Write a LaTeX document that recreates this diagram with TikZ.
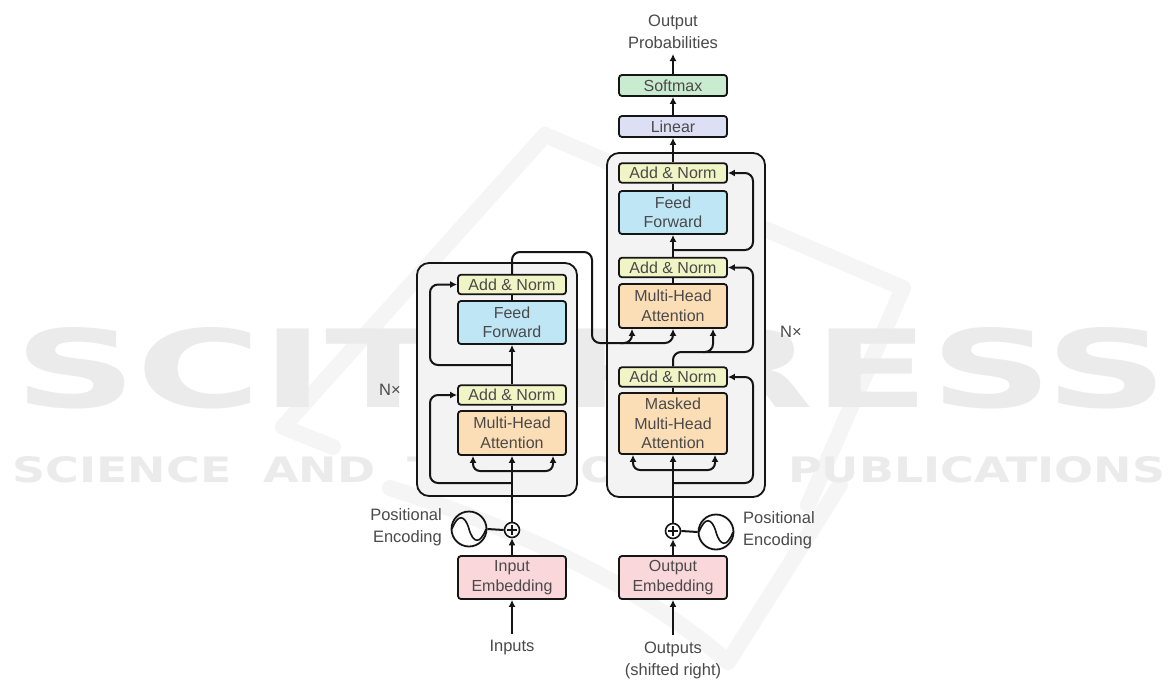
\documentclass[tikz,border=0pt]{standalone}
\usepackage{fontspec}
\setmainfont{Liberation Sans}
\newfontfamily\wmfont{DejaVu Sans}
\usetikzlibrary{arrows.meta,calc}
\definecolor{anC}{HTML}{F1F4C4}
\definecolor{ffC}{HTML}{BFE6F5}
\definecolor{mhC}{HTML}{FCDEB6}
\definecolor{embC}{HTML}{F9D7DB}
\definecolor{smC}{HTML}{C9EBD0}
\definecolor{linC}{HTML}{DDDFF4}
\definecolor{outerC}{HTML}{F3F3F3}
\definecolor{txtC}{HTML}{4A4A4A}
\definecolor{lineC}{HTML}{151515}
\definecolor{wmC}{HTML}{EBEBEB}
\definecolor{wmD}{HTML}{F5F5F5}
\begin{document}
\begin{tikzpicture}[x=1pt,y=-1pt,
  blk/.style={draw=lineC, line width=1.8pt, rounded corners=3pt, inner sep=0pt,
    minimum width=108pt, text=txtC, font=\fontsize{16}{19.5}\selectfont, align=center},
  anblk/.style={blk, fill=anC, minimum height=19.5pt},
  ffblk/.style={blk, fill=ffC, minimum height=43pt},
  mhblk/.style={blk, fill=mhC, minimum height=44pt},
  embblk/.style={blk, fill=embC, minimum height=43pt},
  outer/.style={draw=lineC, line width=1.8pt, rounded corners=12pt, fill=outerC},
  conn/.style={draw=lineC, line width=2pt, rounded corners=8pt},
  arr/.style={conn, -{Latex[length=7pt,width=7pt]}},
  lbl/.style={text=txtC, font=\fontsize{16.5}{22}\selectfont, align=center, inner sep=0pt},
  plusc/.style={circle, draw=lineC, line width=1.6pt, minimum size=15pt, inner sep=0pt},
  pec/.style={circle, draw=lineC, line width=1.8pt, minimum size=35pt, inner sep=0pt},
  wm/.style={text=wmC, inner sep=0pt},
  wmstroke/.style={draw=wmD, line width=16pt, line join=round, line cap=round}
]
\useasboundingbox (0,0) rectangle (1169,680);
\fill[white] (0,0) rectangle (1169,680);

% ---------- watermark ----------
\draw[wmstroke] (333,447) -- (283,427) -- (545,135) -- (903,288) -- (808,505);
\draw[wmstroke] (390,488) .. controls (520,530) and (640,585) .. (728,662) -- (840,485);
\node[wm] (wmA) at (591,368) {\resizebox{1152pt}{80pt}{\wmfont\bfseries SCITEPRESS}};
\node[wm] (wmB) at (589,470) {\resizebox{1152pt}{26pt}{\wmfont\bfseries SCIENCE\ \ AND\ \ TECHNOLOGY\ \ PUBLICATIONS}};

% ---------- outer boxes ----------
\draw[outer] (417,263) rectangle (577,496);
\draw[outer] (607,153) rectangle (765,497);

% ---------- encoder blocks ----------
\node[anblk] (encAN2) at (512,284.5) {Add \& Norm};
\node[ffblk] (encFF) at (512,322.5) {Feed\\Forward};
\node[anblk] (encAN1) at (512,395) {Add \& Norm};
\node[mhblk] (encMHA) at (512,433) {Multi-Head\\Attention};
\node[embblk] (inEmb) at (512,577.5) {Input\\Embedding};
\node[plusc] (encPlus) at (512,530) {};
\node[pec] (encPE) at (469,529) {};

% ---------- decoder blocks ----------
\node[anblk] (decAN3) at (673,173) {Add \& Norm};
\node[ffblk] (decFF) at (673,212.5) {Feed\\Forward};
\node[anblk] (decAN2) at (673,267.5) {Add \& Norm};
\node[mhblk] (decMHA) at (673,306) {Multi-Head\\Attention};
\node[anblk] (decAN1) at (673,377) {Add \& Norm};
\node[blk, fill=mhC, minimum height=61pt] (decMMHA) at (673,423.5) {Masked\\Multi-Head\\Attention};
\node[embblk] (outEmb) at (673,577.5) {Output\\Embedding};
\node[plusc] (decPlus) at (673,531) {};
\node[pec] (decPE) at (716,532) {};
\node[blk, fill=linC, minimum height=21pt] (linear) at (673,126.5) {Linear};
\node[blk, fill=smC, minimum height=21pt] (softmax) at (673,85.5) {Softmax};

% ---------- labels ----------
\node[lbl, align=right, anchor=east] (encPEl) at (442,527) {Positional\\Encoding};
\node[lbl, align=left, anchor=west] (decPEl) at (743,530) {Positional\\Encoding};
\node[lbl] (inputs) at (512,648) {Inputs};
\node[lbl] (outputs) at (673,660) {Outputs\\(shifted right)};
\node[lbl] (outprob) at (673,32) {Output\\Probabilities};
\node[lbl] (encN) at (390,390) {N×};
\node[lbl] (decN) at (791,332) {N×};

% plus and sine glyphs
\foreach \p in {encPlus,decPlus}{
  \draw[lineC, line width=1.4pt] ($(\p.center)+(-5,0)$) -- ($(\p.center)+(5,0)$);
  \draw[lineC, line width=1.4pt] ($(\p.center)+(0,-5)$) -- ($(\p.center)+(0,5)$);
}
\foreach \p in {encPE,decPE}{
  \draw[lineC, line width=1.6pt] ($(\p.center)+(-17,0)$) .. controls ($(\p.center)+(-11,-16)$) and ($(\p.center)+(-4,-14)$) .. (\p.center)
     .. controls ($(\p.center)+(4,14)$) and ($(\p.center)+(11,16)$) .. ($(\p.center)+(17,0)$);
}

% ---------- junction coordinates ----------
\coordinate (encSplit) at (512,471);
\coordinate (encRes1) at (512,483);
\coordinate (encRes2) at (512,365);
\coordinate (encTop) at (512,252);
\coordinate (encL) at (430,0);
\coordinate (xEncOut) at (592,252);
\coordinate (encOutLow) at (592,343);
\coordinate (crossK) at (632,343);
\coordinate (crossV) at (673,343);
\coordinate (decSplit) at (673,470);
\coordinate (decRes1) at (673,483);
\coordinate (decQ) at (673,352);
\coordinate (decRes3) at (673,250);
\coordinate (decR) at (753,0);
\coordinate (probTop) at (673,54);

% ---------- encoder connectors ----------
\draw[arr] (inputs.north) ++(0,-6) -- (inEmb.south);
\draw[arr] (inEmb.north) -- (encPlus.south);
\draw[conn] (encPE.east) -- (encPlus.west);
\draw[arr] (encPlus.north) -- (encMHA.south);
\draw[arr, rounded corners=7pt] (encSplit) -| ([xshift=-39pt]encMHA.south);
\draw[arr, rounded corners=7pt] (encSplit) -| ([xshift=41pt]encMHA.south);
\draw[arr] (encRes1) -| (encL |- encAN1.west) -- (encAN1.west);
\draw[conn] (encMHA.north) -- (encAN1.south);
\draw[arr] (encAN1.north) -- (encFF.south);
\draw[arr] (encRes2) -| (encL |- encAN2.west) -- (encAN2.west);
\draw[conn] (encFF.north) -- (encAN2.south);
\draw[arr] (encAN2.north) -- (encTop) -- (xEncOut) -- (encOutLow) -- (crossK) -- (crossK |- decMHA.south);
\draw[arr] ($(crossK)+(-12,0)$) -- (crossV) -- (crossV |- decMHA.south);

% ---------- decoder connectors ----------
\draw[arr] (outputs.north) ++(0,-6) -- (outEmb.south);
\draw[arr] (outEmb.north) -- (decPlus.south);
\draw[conn] (decPE.west) -- (decPlus.east);
\draw[arr] (decPlus.north) -- (decMMHA.south);
\draw[arr, rounded corners=7pt] (decSplit) -| ([xshift=-40pt]decMMHA.south);
\draw[arr, rounded corners=7pt] (decSplit) -| ([xshift=42pt]decMMHA.south);
\draw[arr] (decRes1) -| (decR |- decAN1.east) -- (decAN1.east);
\draw[conn] (decMMHA.north) -- (decAN1.south);
\draw[arr] (decAN1.north) -- (decQ) -| ([xshift=40pt]decMHA.south);
\draw[arr] ($(decQ)+(30,0)$) -| (decR |- decAN2.east) -- (decAN2.east);
\draw[conn] (decMHA.north) -- (decAN2.south);
\draw[arr] (decAN2.north) -- (decFF.south);
\draw[arr] (decRes3) -| (decR |- decAN3.east) -- (decAN3.east);
\draw[conn] (decFF.north) -- (decAN3.south);
\draw[arr] (decAN3.north) -- (linear.south);
\draw[arr] (linear.north) -- (softmax.south);
\draw[arr] (softmax.north) -- (probTop);
\end{tikzpicture}
\end{document}
